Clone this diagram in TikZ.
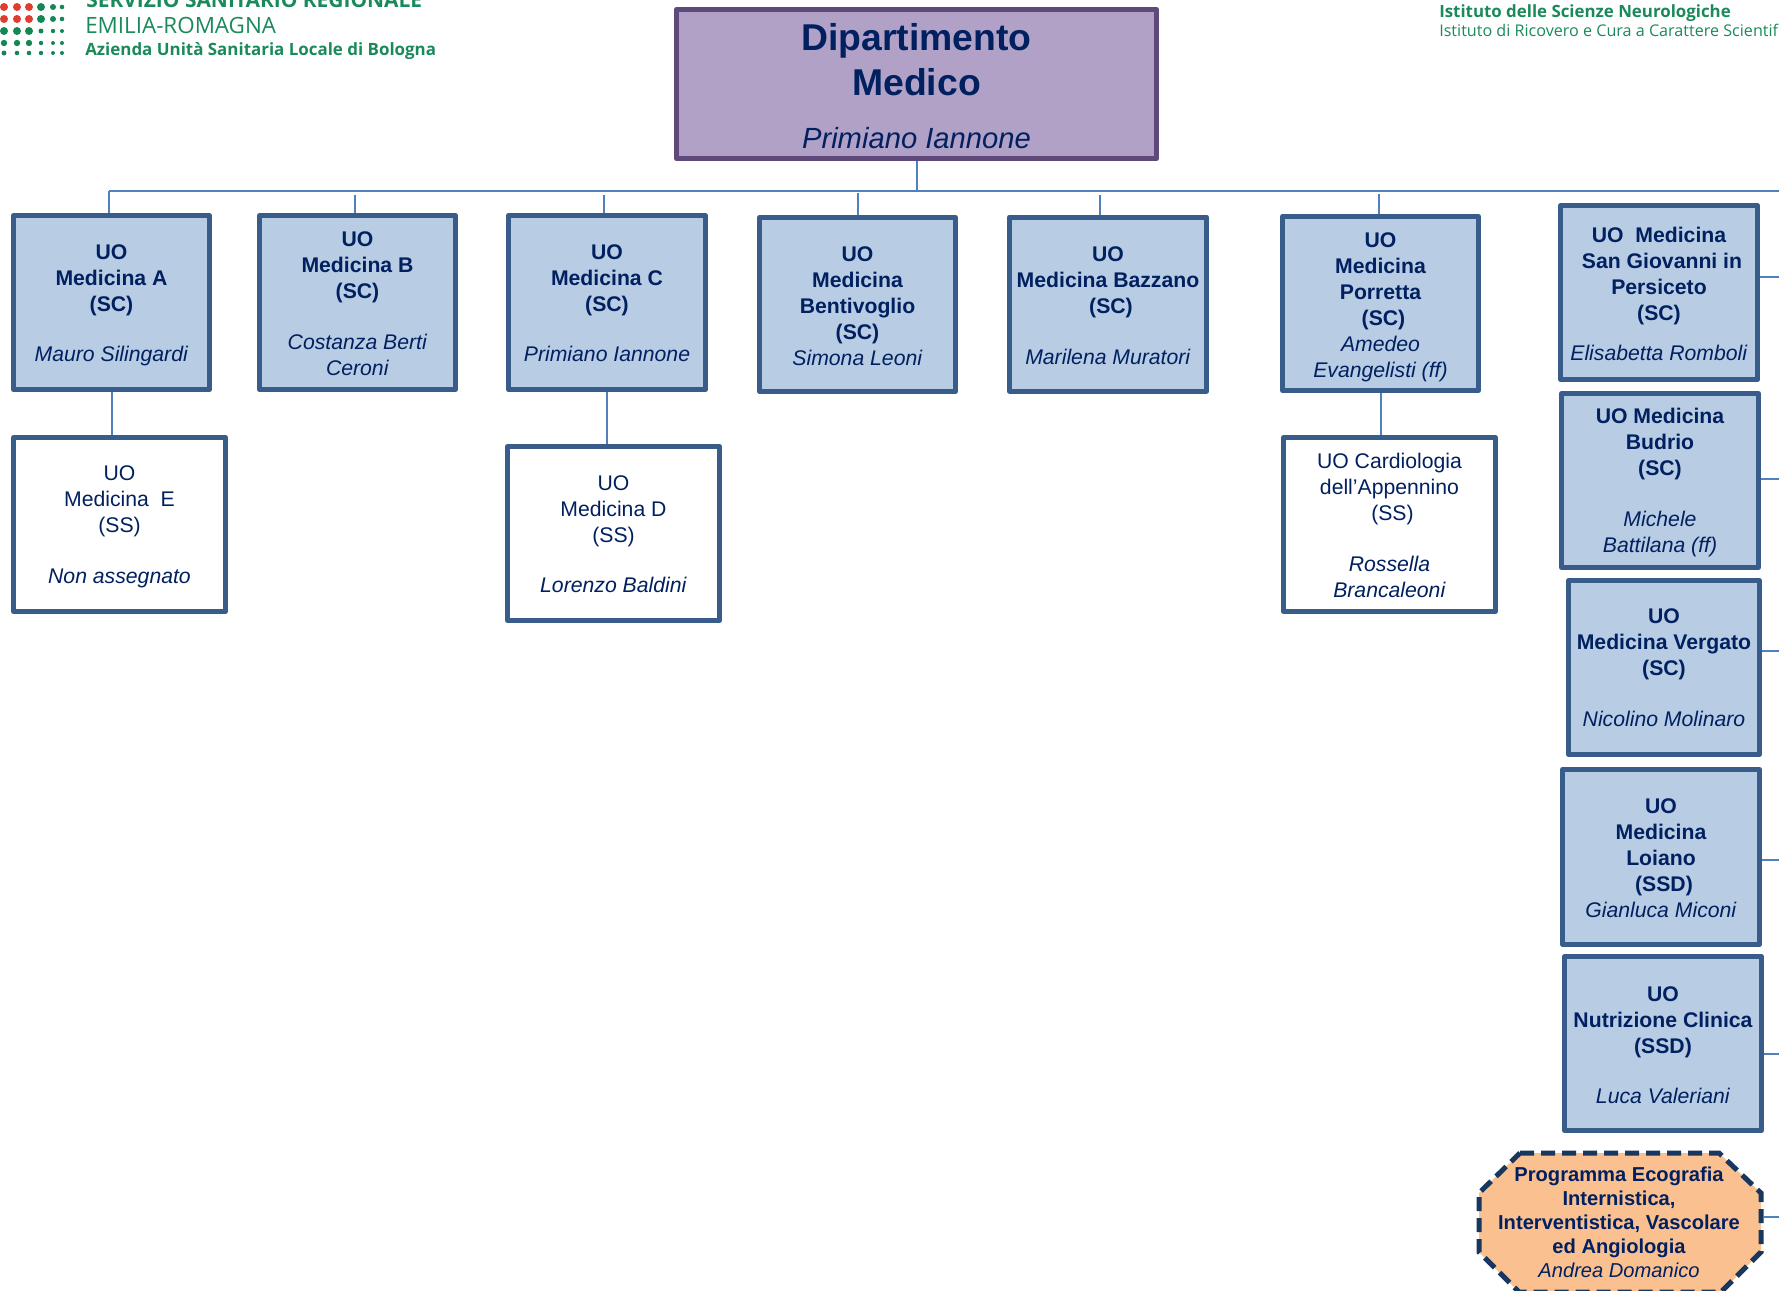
\documentclass[tikz,border=0pt]{standalone}
\usepackage{xcolor}
\usepackage{fontspec}
\setmainfont{Liberation Sans}
\newfontfamily\logofont{Open Sans}
\newcommand{\respname}[1]{\textmd{\textit{#1}}}
\newcommand{\shiftsp}{\hspace*{0.28em}}
\newcommand{\toprule}[1]{\rule{0pt}{#1pt}}

\tikzset{
  uobase/.style={draw={rgb, 255:red, 56; green, 93; blue, 138 },line width=3.75pt,line join=round,inner sep=0pt,align=center,
    text={rgb, 255:red, 0; green, 32; blue, 96 },minimum width=147pt,minimum height=130.5pt},
  uobox/.style={uobase,fill={rgb, 255:red, 184; green, 204; blue, 228 },font=\bfseries\fontsize{15.9pt}{19.5pt}\selectfont},
  subbox/.style={uobase,fill=white,font=\fontsize{15.9pt}{19.5pt}\selectfont,minimum width=159pt},
  deptbox/.style={draw={rgb, 255:red, 95; green, 73; blue, 122 },fill={rgb, 255:red, 178; green, 161; blue, 199 },line width=3.75pt,line join=round,inner sep=0pt,align=center,
    text={rgb, 255:red, 0; green, 32; blue, 96 },font=\bfseries\fontsize{28pt}{33.75pt}\selectfont,minimum width=360pt,minimum height=111.75pt},
  progshape/.style={draw={rgb, 255:red, 23; green, 55; blue, 94 },fill={rgb, 255:red, 250; green, 192; blue, 144 },
    line width=3.75pt,dash pattern=on 10.5pt off 5.25pt},
  progtext/.style={inner sep=0pt,align=center,text={rgb, 255:red, 0; green, 32; blue, 96 },font=\bfseries\fontsize{15.1pt}{18pt}\selectfont},
  linkline/.style={draw={rgb, 255:red, 79; green, 129; blue, 189 },line width=1.5pt},
  logotext/.style={anchor=base west,inner sep=0pt,text={rgb, 255:red, 26; green, 138; blue, 90 }},
  dotgreen/.style={fill={rgb, 255:red, 20; green, 135; blue, 85 }},
  dotred/.style={fill={rgb, 255:red, 224; green, 60; blue, 49 }}
}

\begin{document}
\begin{tikzpicture}[x=0.75pt,y=0.75pt,yscale=-1,xscale=1]
\useasboundingbox (0,0) rectangle (1779,1290);
\clip (0,0) rectangle (1779,1290);

%Logo dots
\fill [dotred] (4,7) circle (4) (17,7) circle (4) (29,7) circle (4) (4,19) circle (4) (17,19) circle (4) (29,19) circle (4);
\fill [dotgreen] (41,7) circle (4) (53,7) circle (3) (62,7) circle (2.3) (41,19) circle (4) (53,19) circle (3) (62,19) circle (2.3);
\fill [dotgreen] (4,31) circle (4) (17,31) circle (4) (29,31) circle (4) (41,31) circle (2.5) (53,31) circle (2.2) (62,31) circle (2);
\fill [dotgreen] (4,43) circle (3.2) (17,43) circle (3.2) (29,43) circle (3.2) (41,43) circle (2.2) (53,43) circle (2) (62,43) circle (2);
\fill [dotgreen] (4,53) circle (2.5) (17,53) circle (2.3) (29,53) circle (2.3) (41,53) circle (2.2) (53,53) circle (2) (62,53) circle (2);

% Text Node
\node (logoSSR) [logotext,font=\logofont\bfseries\fontsize{15.7pt}{16pt}\selectfont] at (86,7) {SERVIZIO SANITARIO REGIONALE};
\node (logoER) [logotext,font=\logofont\fontsize{16.8pt}{16pt}\selectfont] at (85,33) {EMILIA-ROMAGNA};
\node (logoAUSL) [logotext,font=\logofont\bfseries\fontsize{12.7pt}{16pt}\selectfont] at (85,55) {Azienda Unità Sanitaria Locale di Bologna};
\node (logoISN) [logotext,font=\logofont\bfseries\fontsize{12.65pt}{16pt}\selectfont] at (1439,17) {Istituto delle Scienze Neurologiche};
\node (logoIRCCS) [logotext,font=\logofont\fontsize{12.1pt}{16pt}\selectfont] at (1439,36) {Istituto di Ricovero e Cura a Carattere Scientif};

%Shape: Rectangle
\node (dept) [deptbox] at (916.5,84) {\toprule{23.3}Dipartimento\\Medico\\[6pt]\fontsize{21.9pt}{33.75pt}\selectfont\respname{Primiano Iannone}};

\node (medA) [uobox] at (111.5,302.5) {\toprule{15.3}UO\\Medicina A\\(SC)\\[18.5pt]\respname{Mauro Silingardi}};
\node (medB) [uobox] at (357.5,302.5) {\toprule{13}UO\\Medicina B\\(SC)\\[18.5pt]\respname{Costanza Berti}\\\respname{Ceroni}};
\node (medC) [uobox,minimum width=147.75pt] at (607,302.5) {\toprule{12}UO\\Medicina C\\(SC)\\[18.5pt]\respname{Primiano Iannone}};
\node (medBent) [uobox] at (857.5,304.5) {\toprule{13.3}UO\\Medicina\\Bentivoglio\\(SC)\\\respname{Simona Leoni}};
\node (medBaz) [uobox,minimum width=147.75pt] at (1108,304) {\toprule{13.3}UO\\Medicina Bazzano\\\shiftsp(SC)\\[18.5pt]\respname{Marilena Muratori}};
\node (medPor) [uobox] at (1380.5,303.5) {\toprule{16.7}UO\\Medicina\\Porretta\\\shiftsp(SC)\\\respname{Amedeo}\\\respname{Evangelisti (ff)}};
\node (medE) [subbox] at (119.5,524.5) {\toprule{14.5}UO\\Medicina\ \ E\\(SS)\\[18.5pt]\textit{Non assegnato}};
\node (medD) [subbox] at (613.5,533.5) {\toprule{12}UO\\Medicina D\\(SS)\\[18.5pt]\textit{Lorenzo Baldini}};
\node (cardApp) [subbox] at (1389.5,524.5) {\toprule{13}UO Cardiologia\\dell’Appennino\\\shiftsp(SS)\\[18.5pt]\textit{Rossella}\\\textit{Brancaleoni}};
\node (medSG) [uobox,minimum width=147.75pt] at (1659,292.5) {\toprule{13.6}UO\ \ Medicina\\\shiftsp San Giovanni in\\Persiceto\\(SC)\\[11pt]\respname{Elisabetta Romboli}};
\node (medBud) [uobox,minimum width=147.75pt] at (1660,480.5) {\toprule{15}UO Medicina\\Budrio\\(SC)\\[18.5pt]\respname{Michele}\\\respname{Battilana (ff)}};
\node (medVer) [uobox,minimum width=143.25pt] at (1664,667.5) {UO\\Medicina Vergato\\(SC)\\[18.5pt]\respname{Nicolino Molinaro}};
\node (medLoi) [uobox,minimum width=147.75pt,minimum height=131.25pt] at (1661,857) {\toprule{13.6}UO\\Medicina\\Loiano\\\shiftsp(SSD)\\\respname{Gianluca Miconi}};
\node (nutrCl) [uobox,minimum width=147.75pt] at (1663,1043.5) {\toprule{13.6}UO\\Nutrizione Clinica\\(SSD)\\[18.5pt]\respname{Luca Valeriani}};

%Shape: Polygon
\draw [progshape] (1520,1153) -- (1719,1153) -- (1761,1193) -- (1761,1252) -- (1721,1292) -- (1519,1292) -- (1479,1252) -- (1479,1193) -- cycle;
\node (progEco) [progtext] at (1619,1222.6) {Programma Ecografia\\Internistica,\\Interventistica, Vascolare\\ed Angiologia\\\respname{Andrea Domanico}};

%Straight Lines
\coordinate (trunkL) at (109,191);
\coordinate (trunkR) at (1779,191);
\coordinate (trunkB) at (354.5,194.5);
\coordinate (trunkC) at (604,195);
\coordinate (trunkBent) at (858,193);
\coordinate (trunkBaz) at (1100,194.5);
\coordinate (trunkPor) at (1379,194);
\coordinate (edgeSG) at (1779,277);
\coordinate (edgeBud) at (1779,479);
\coordinate (edgeVer) at (1779,651);
\coordinate (edgeLoi) at (1779,860);
\coordinate (edgeNutr) at (1779,1054);
\coordinate (progEast) at (1763,1217);
\coordinate (edgeProg) at (1779,1217);
\draw [linkline] (trunkL) -- (trunkR);
\draw [linkline] (dept.south) -- (dept.south |- trunkL);
\draw [linkline] (trunkL) -- (trunkL |- medA.north);
\draw [linkline] (trunkB) -- (trunkB |- medB.north);
\draw [linkline] (trunkC) -- (trunkC |- medC.north);
\draw [linkline] (trunkBent) -- (trunkBent |- medBent.north);
\draw [linkline] (trunkBaz) -- (trunkBaz |- medBaz.north);
\draw [linkline] (trunkPor) -- (trunkPor |- medPor.north);
\draw [linkline] (medA.south) -- (medA.south |- medE.north);
\draw [linkline] (medC.south) -- (medC.south |- medD.north);
\draw [linkline] (medPor.south) -- (medPor.south |- cardApp.north);
\draw [linkline] (medSG.east |- edgeSG) -- (edgeSG);
\draw [linkline] (medBud.east |- edgeBud) -- (edgeBud);
\draw [linkline] (medVer.east |- edgeVer) -- (edgeVer);
\draw [linkline] (medLoi.east |- edgeLoi) -- (edgeLoi);
\draw [linkline] (nutrCl.east |- edgeNutr) -- (edgeNutr);
\draw [linkline] (progEast) -- (edgeProg);

\end{tikzpicture}
\end{document}
